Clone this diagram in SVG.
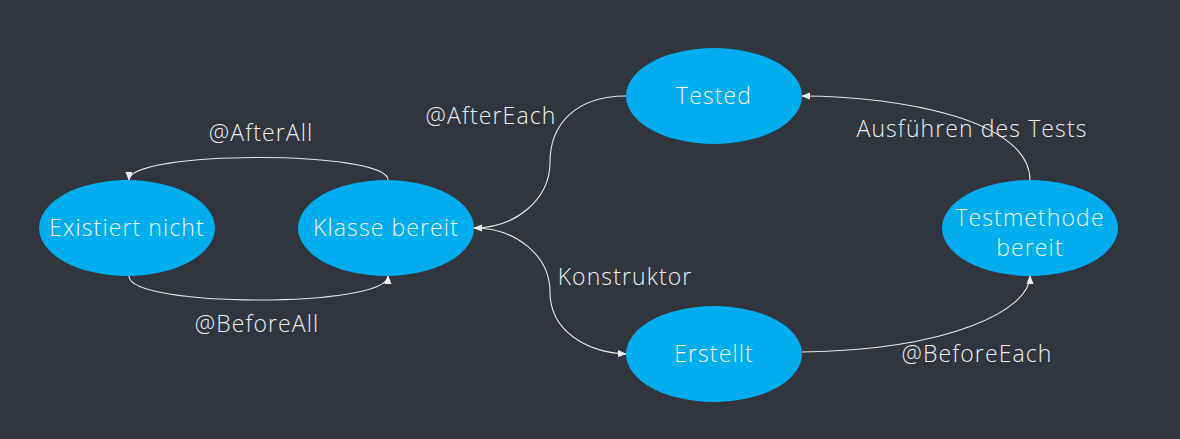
<svg xmlns="http://www.w3.org/2000/svg" width="1180" height="439" viewBox="0 0 1180 439">
<defs>
<marker id="arr" viewBox="0 0 10 10" refX="9" refY="5" markerWidth="9" markerHeight="9" markerUnits="userSpaceOnUse" orient="auto">
<path d="M0,1 L10,5 L0,9 Z" fill="#eeeeee"/>
</marker>
<style>
.node ellipse{fill:#00aeef;}
.node text{fill:#f2f8fb;font-family:"Open Sans",Lato,sans-serif;font-weight:300;font-size:23px;letter-spacing:1.1px;text-anchor:middle;}
.lbl{fill:#eceef0;font-family:"Open Sans",Lato,sans-serif;font-weight:300;font-size:23px;letter-spacing:1.1px;text-anchor:middle;}
.edge{fill:none;stroke:#e8e8e8;stroke-width:1.1;marker-end:url(#arr);}
</style>
</defs>
<rect width="1180" height="439" fill="#31353e"/>
<g id="connectors">
<path class="edge" d="M388,180 C388,150 129,150 129,180"/>
<path class="edge" d="M129,276 C129,308 388,308 388,276"/>
<path class="edge" d="M626,96 C575,96 550,125 550,162 C550,200 515,228 474,228"/>
<path class="edge" d="M474,228 C515,228 550,255 550,292 C550,330 585,352 626,354"/>
<path class="edge" d="M802,352 C950,350 1030,310 1030,276"/>
<path class="edge" d="M1030,180 C1030,120 900,96 802,96"/>
</g>
<g id="labels">
<text class="lbl" x="261" y="141">@AfterAll</text>
<text class="lbl" x="257" y="332">@BeforeAll</text>
<text class="lbl" x="491" y="124">@AfterEach</text>
<text class="lbl" x="625" y="285">Konstruktor</text>
<text class="lbl" x="972" y="137">Ausführen des Tests</text>
<text class="lbl" x="977" y="362">@BeforeEach</text>
</g>
<g id="node-existiert" class="node"><ellipse cx="127" cy="228" rx="88" ry="48"/><text x="127" y="236">Existiert nicht</text></g>
<g id="node-klasse" class="node"><ellipse cx="386" cy="228" rx="88" ry="48"/><text x="386" y="236">Klasse bereit</text></g>
<g id="node-tested" class="node"><ellipse cx="714" cy="96" rx="88" ry="48"/><text x="714" y="104">Tested</text></g>
<g id="node-testmethode" class="node"><ellipse cx="1030" cy="228" rx="88" ry="48"/><text x="1030" y="226">Testmethode</text><text x="1030" y="256">bereit</text></g>
<g id="node-erstellt" class="node"><ellipse cx="714" cy="354" rx="88" ry="48"/><text x="714" y="362">Erstellt</text></g>
</svg>
